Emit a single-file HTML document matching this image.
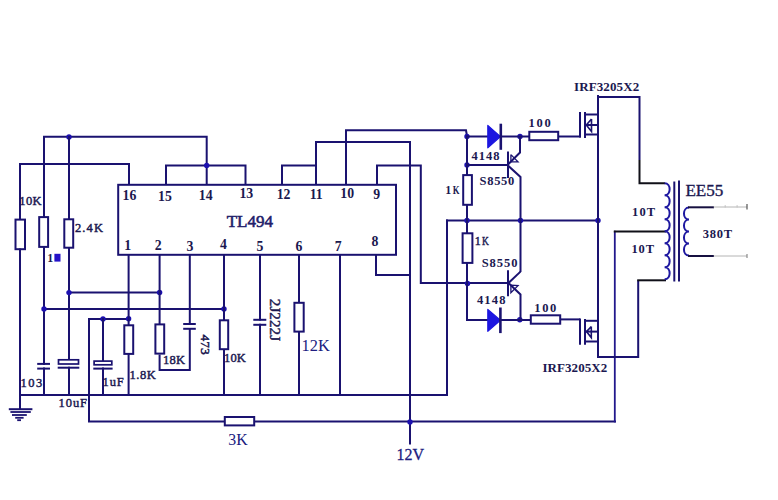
<!DOCTYPE html>
<html><head><meta charset="utf-8"><style>
html,body{margin:0;padding:0;background:#fff;width:778px;height:500px;overflow:hidden}
svg{display:block}
</style></head><body>
<svg width="778" height="500" viewBox="0 0 778 500"><rect x="118.20" y="184.80" width="277.80" height="70.00" fill="#fff" stroke="#1a1270" stroke-width="2"/>
<polyline points="44,247.5 44,136.8 206.7,136.8 206.7,185" fill="none" stroke="#1a1270" stroke-width="2" stroke-linejoin="miter"/>
<circle cx="69" cy="137" r="2.7" fill="#1c10b0"/>
<line x1="69" y1="137" x2="69" y2="218.5" stroke="#1a1270" stroke-width="2" stroke-linecap="square"/>
<polyline points="20,249.5 20,164 129,164 129,185" fill="none" stroke="#1a1270" stroke-width="2" stroke-linejoin="miter"/>
<polyline points="166,185 166,165.4 245.5,165.4 245.5,185" fill="none" stroke="#1a1270" stroke-width="2" stroke-linejoin="miter"/>
<circle cx="206.7" cy="165.4" r="2.7" fill="#1c10b0"/>
<polyline points="282,185 282,165.6 316,165.6" fill="none" stroke="#1a1270" stroke-width="2" stroke-linejoin="miter"/>
<polyline points="316,185 316,142.1 410,142.1 410,444.5" fill="none" stroke="#1a1270" stroke-width="2" stroke-linejoin="miter"/>
<polyline points="346,185 346,130.3 466,130.3 467,136" fill="none" stroke="#1a1270" stroke-width="2" stroke-linejoin="miter"/>
<polyline points="377,185 377,165.4 420.8,165.4 420.8,283 508,283" fill="none" stroke="#1a1270" stroke-width="2" stroke-linejoin="miter"/>
<rect x="15.50" y="219.60" width="9.50" height="29.60" fill="#fff" stroke="#1a1270" stroke-width="2"/>
<rect x="39.20" y="217.10" width="8.90" height="29.80" fill="#fff" stroke="#1a1270" stroke-width="2"/>
<rect x="64.30" y="219.30" width="8.90" height="28.40" fill="#fff" stroke="#1a1270" stroke-width="2"/>
<line x1="20" y1="249.5" x2="20" y2="409" stroke="#1a1270" stroke-width="2" stroke-linecap="square"/>
<line x1="44" y1="247.5" x2="44" y2="363.9" stroke="#1a1270" stroke-width="2" stroke-linecap="square"/>
<line x1="44" y1="368.5" x2="44" y2="395" stroke="#1a1270" stroke-width="2" stroke-linecap="square"/>
<line x1="37.2" y1="363.9" x2="50" y2="363.9" stroke="#1a1270" stroke-width="2" stroke-linecap="butt"/>
<line x1="37.2" y1="368.6" x2="50" y2="368.6" stroke="#1a1270" stroke-width="2" stroke-linecap="butt"/>
<line x1="69" y1="248.5" x2="69" y2="359.5" stroke="#1a1270" stroke-width="2" stroke-linecap="square"/>
<rect x="58.50" y="359.80" width="20.00" height="4.20" fill="#fff" stroke="#1a1270" stroke-width="1.7"/>
<line x1="57.7" y1="367.7" x2="79.3" y2="367.7" stroke="#1a1270" stroke-width="2" stroke-linecap="butt"/>
<line x1="69" y1="367.8" x2="69" y2="395" stroke="#1a1270" stroke-width="2" stroke-linecap="square"/>
<line x1="69" y1="292.6" x2="159.6" y2="292.6" stroke="#1a1270" stroke-width="2" stroke-linecap="square"/>
<circle cx="69" cy="292.6" r="2.7" fill="#1c10b0"/>
<circle cx="159.6" cy="292.5" r="2.7" fill="#1c10b0"/>
<line x1="44" y1="309" x2="224" y2="309" stroke="#1a1270" stroke-width="2" stroke-linecap="square"/>
<circle cx="44" cy="309" r="2.7" fill="#1c10b0"/>
<circle cx="224" cy="309" r="2.7" fill="#1c10b0"/>
<polyline points="89,421.5 89,319 128.6,319" fill="none" stroke="#1a1270" stroke-width="2" stroke-linejoin="miter"/>
<circle cx="103" cy="319" r="2.7" fill="#1c10b0"/>
<circle cx="128.6" cy="318.8" r="2.7" fill="#1c10b0"/>
<line x1="103" y1="319" x2="103" y2="360.5" stroke="#1a1270" stroke-width="2" stroke-linecap="square"/>
<rect x="94.10" y="361.10" width="17.70" height="3.70" fill="#fff" stroke="#1a1270" stroke-width="1.7"/>
<line x1="93.3" y1="368.6" x2="112.6" y2="368.6" stroke="#1a1270" stroke-width="2" stroke-linecap="butt"/>
<line x1="103" y1="368.5" x2="103" y2="395" stroke="#1a1270" stroke-width="2" stroke-linecap="square"/>
<line x1="128.6" y1="255" x2="128.6" y2="324.5" stroke="#1a1270" stroke-width="2" stroke-linecap="square"/>
<rect x="124.30" y="325.30" width="8.90" height="28.60" fill="#fff" stroke="#1a1270" stroke-width="2"/>
<line x1="128.6" y1="354.7" x2="128.6" y2="395" stroke="#1a1270" stroke-width="2" stroke-linecap="square"/>
<line x1="159.6" y1="255" x2="159.6" y2="323.6" stroke="#1a1270" stroke-width="2" stroke-linecap="square"/>
<rect x="155.40" y="324.40" width="8.80" height="29.20" fill="#fff" stroke="#1a1270" stroke-width="2"/>
<polyline points="159.6,354.4 159.6,370 189.8,370 189.8,328.8" fill="none" stroke="#1a1270" stroke-width="2" stroke-linejoin="miter"/>
<line x1="189.8" y1="255" x2="189.8" y2="324" stroke="#1a1270" stroke-width="2" stroke-linecap="square"/>
<line x1="183.2" y1="324" x2="195.8" y2="324" stroke="#1a1270" stroke-width="2" stroke-linecap="butt"/>
<line x1="183.2" y1="328.8" x2="195.8" y2="328.8" stroke="#1a1270" stroke-width="2" stroke-linecap="butt"/>
<line x1="224" y1="255" x2="224" y2="319.5" stroke="#1a1270" stroke-width="2" stroke-linecap="square"/>
<rect x="219.80" y="320.30" width="8.40" height="28.90" fill="#fff" stroke="#1a1270" stroke-width="2"/>
<line x1="224" y1="350" x2="224" y2="395" stroke="#1a1270" stroke-width="2" stroke-linecap="square"/>
<line x1="260" y1="255" x2="260" y2="319.6" stroke="#1a1270" stroke-width="2" stroke-linecap="square"/>
<line x1="253.3" y1="319.8" x2="266.3" y2="319.8" stroke="#1a1270" stroke-width="2" stroke-linecap="butt"/>
<line x1="253.3" y1="324.8" x2="266.3" y2="324.8" stroke="#1a1270" stroke-width="2" stroke-linecap="butt"/>
<line x1="260" y1="324.8" x2="260" y2="395" stroke="#1a1270" stroke-width="2" stroke-linecap="square"/>
<line x1="299" y1="255" x2="299" y2="302" stroke="#1a1270" stroke-width="2" stroke-linecap="square"/>
<rect x="294.40" y="302.80" width="9.30" height="28.80" fill="#fff" stroke="#1a1270" stroke-width="2"/>
<line x1="299" y1="332.4" x2="299" y2="395" stroke="#1a1270" stroke-width="2" stroke-linecap="square"/>
<line x1="340" y1="255" x2="340" y2="395" stroke="#1a1270" stroke-width="2" stroke-linecap="square"/>
<polyline points="376,255 376,275 410,275" fill="none" stroke="#1a1270" stroke-width="2" stroke-linejoin="miter"/>
<line x1="20" y1="395" x2="447" y2="395" stroke="#1a1270" stroke-width="2" stroke-linecap="square"/>
<line x1="89" y1="421.5" x2="224" y2="421.5" stroke="#1a1270" stroke-width="2" stroke-linecap="square"/>
<rect x="224.80" y="417.00" width="29.40" height="8.40" fill="#fff" stroke="#1a1270" stroke-width="2"/>
<line x1="255" y1="421.5" x2="615" y2="421.5" stroke="#1a1270" stroke-width="2" stroke-linecap="square"/>
<line x1="614.8" y1="421.5" x2="614.8" y2="231.6" stroke="#22188c" stroke-width="1.8" stroke-linecap="square"/>
<line x1="614.8" y1="231.6" x2="665" y2="231.6" stroke="#101018" stroke-width="2" stroke-linecap="square"/>
<circle cx="410" cy="422" r="2.7" fill="#1c10b0"/>
<line x1="8.8" y1="409.2" x2="32.4" y2="409.2" stroke="#1a1270" stroke-width="2" stroke-linecap="butt"/>
<line x1="10.4" y1="412" x2="30.8" y2="412" stroke="#1a1270" stroke-width="1.8" stroke-linecap="butt"/>
<line x1="12" y1="415" x2="26.8" y2="415" stroke="#1a1270" stroke-width="1.8" stroke-linecap="butt"/>
<line x1="15.2" y1="417.8" x2="23.6" y2="417.8" stroke="#1a1270" stroke-width="1.8" stroke-linecap="butt"/>
<line x1="17.2" y1="420.2" x2="21" y2="420.2" stroke="#1a1270" stroke-width="1.8" stroke-linecap="butt"/>
<line x1="447" y1="220.5" x2="447" y2="395" stroke="#1a1270" stroke-width="2" stroke-linecap="square"/>
<line x1="447" y1="220.5" x2="598" y2="220.5" stroke="#1a1270" stroke-width="2" stroke-linecap="square"/>
<circle cx="467" cy="220.5" r="2.7" fill="#1c10b0"/>
<circle cx="520.5" cy="220.5" r="2.7" fill="#1c10b0"/>
<circle cx="598" cy="220.5" r="2.7" fill="#1c10b0"/>
<circle cx="467" cy="136.5" r="2.7" fill="#1c10b0"/>
<circle cx="520" cy="136.5" r="2.7" fill="#1c10b0"/>
<circle cx="467" cy="165" r="2.7" fill="#1c10b0"/>
<circle cx="467.5" cy="283.5" r="2.7" fill="#1c10b0"/>
<circle cx="519.8" cy="319.8" r="2.7" fill="#1c10b0"/>
<line x1="467" y1="136.5" x2="487" y2="136.5" stroke="#1a1270" stroke-width="2" stroke-linecap="square"/>
<polygon points="487.8,125.5 487.8,147.8 500.5,136.6" fill="#1c16e0" stroke="#1c16e0" stroke-width="1.2" stroke-linejoin="round"/>
<line x1="500.8" y1="125" x2="500.8" y2="148.5" stroke="#1a1270" stroke-width="2.6" stroke-linecap="square"/>
<line x1="501" y1="136.5" x2="528.5" y2="136.5" stroke="#1a1270" stroke-width="2" stroke-linecap="square"/>
<rect x="529.30" y="131.80" width="28.90" height="8.40" fill="#fff" stroke="#1a1270" stroke-width="2"/>
<line x1="559" y1="136.5" x2="580" y2="136.5" stroke="#1a1270" stroke-width="2" stroke-linecap="square"/>
<line x1="467" y1="136.5" x2="467" y2="174.6" stroke="#1a1270" stroke-width="2" stroke-linecap="square"/>
<rect x="463.20" y="175.10" width="8.70" height="29.70" fill="#fff" stroke="#1a1270" stroke-width="2"/>
<line x1="467" y1="205" x2="467" y2="233" stroke="#1a1270" stroke-width="2" stroke-linecap="square"/>
<rect x="462.60" y="233.30" width="9.80" height="29.60" fill="#fff" stroke="#1a1270" stroke-width="2"/>
<line x1="467" y1="263" x2="467" y2="320" stroke="#1a1270" stroke-width="2" stroke-linecap="square"/>
<line x1="467" y1="320" x2="487" y2="320" stroke="#1a1270" stroke-width="2" stroke-linecap="square"/>
<polygon points="487.8,309.5 487.8,331.3 500.4,320.2" fill="#1c16e0" stroke="#1c16e0" stroke-width="1.2" stroke-linejoin="round"/>
<line x1="500.4" y1="308.8" x2="500.4" y2="331.8" stroke="#1a1270" stroke-width="2.6" stroke-linecap="square"/>
<line x1="500.5" y1="320" x2="530" y2="320" stroke="#1a1270" stroke-width="2" stroke-linecap="square"/>
<rect x="530.80" y="315.30" width="29.40" height="8.40" fill="#fff" stroke="#1a1270" stroke-width="2"/>
<polyline points="561,319.4 580,319.4" fill="none" stroke="#1a1270" stroke-width="2" stroke-linejoin="miter"/>
<line x1="467" y1="165" x2="508" y2="165" stroke="#1a1270" stroke-width="2" stroke-linecap="square"/>
<line x1="508" y1="152.5" x2="508" y2="177" stroke="#1a1270" stroke-width="2" stroke-linecap="square"/>
<polyline points="520,136.5 520,152.5 508.5,164" fill="none" stroke="#1a1270" stroke-width="2" stroke-linejoin="miter"/>
<polyline points="508.5,166 520.5,177 520.5,272" fill="none" stroke="#1a1270" stroke-width="2" stroke-linejoin="miter"/>
<polyline points="510.9,154.6 510.9,161.8 518,161.8 510.9,154.6" fill="none" stroke="#1a1270" stroke-width="1.3" stroke-linejoin="miter"/>
<line x1="508" y1="271.2" x2="508" y2="295.2" stroke="#1a1270" stroke-width="2" stroke-linecap="square"/>
<polyline points="508.5,283 520.5,271.6" fill="none" stroke="#1a1270" stroke-width="2" stroke-linejoin="miter"/>
<polyline points="508.5,283 520.5,294.4 520.5,320" fill="none" stroke="#1a1270" stroke-width="2" stroke-linejoin="miter"/>
<polyline points="510.9,285.2 510.9,292.6 518,285.6 510.9,285.2" fill="none" stroke="#1a1270" stroke-width="1.3" stroke-linejoin="miter"/>
<line x1="580" y1="113" x2="580" y2="136.5" stroke="#1a1270" stroke-width="2" stroke-linecap="square"/>
<line x1="585" y1="113" x2="585" y2="137" stroke="#1a1270" stroke-width="2" stroke-linecap="square"/>
<polyline points="585,114.5 598,114.5" fill="none" stroke="#1a1270" stroke-width="2" stroke-linejoin="miter"/>
<line x1="585" y1="125" x2="598" y2="125" stroke="#1a1270" stroke-width="2" stroke-linecap="square"/>
<line x1="585" y1="134.5" x2="598" y2="134.5" stroke="#1a1270" stroke-width="2" stroke-linecap="square"/>
<polyline points="598,95 598,357 638.2,357 638.2,280.3" fill="none" stroke="#1a1270" stroke-width="2" stroke-linejoin="miter"/>
<line x1="638.2" y1="280.3" x2="665" y2="280.3" stroke="#101018" stroke-width="2" stroke-linecap="square"/>
<polyline points="598,97 639.5,97 639.5,160" fill="none" stroke="#1a1270" stroke-width="2" stroke-linejoin="miter"/>
<polyline points="639.5,160 639.5,183.2 665,183.2" fill="none" stroke="#101018" stroke-width="2" stroke-linejoin="miter"/>
<polyline points="591.5,119 586.3,125 591.5,131.5 591.5,119" fill="none" stroke="#1a1270" stroke-width="1.6" stroke-linejoin="miter"/>
<line x1="580" y1="319.4" x2="580" y2="343.7" stroke="#1a1270" stroke-width="2" stroke-linecap="square"/>
<line x1="585" y1="320" x2="585" y2="343.7" stroke="#1a1270" stroke-width="2" stroke-linecap="square"/>
<line x1="585" y1="320.8" x2="598" y2="320.8" stroke="#1a1270" stroke-width="2" stroke-linecap="square"/>
<line x1="585" y1="331.6" x2="598" y2="331.6" stroke="#1a1270" stroke-width="2" stroke-linecap="square"/>
<line x1="585" y1="341.5" x2="598" y2="341.5" stroke="#1a1270" stroke-width="2" stroke-linecap="square"/>
<polyline points="591.3,326.5 586.5,331.6 591.3,337.6 591.3,326.5" fill="none" stroke="#1a1270" stroke-width="1.6" stroke-linejoin="miter"/>
<path d="M664.6,183.2 C671.32,183.2 671.32,195.2 664.6,195.2 C671.32,195.2 671.32,207.2 664.6,207.2 C671.32,207.2 671.32,219.2 664.6,219.2 C671.32,219.2 671.32,231.2 664.6,231.2 C671.32,231.2 671.32,243.2 664.6,243.2 C671.32,243.2 671.32,255.2 664.6,255.2 C671.32,255.2 671.32,267.2 664.6,267.2 C671.32,267.2 671.32,279.2 664.6,279.2" fill="none" stroke="#1e18a0" stroke-width="2"/>
<line x1="674.3" y1="182.5" x2="674.3" y2="280.5" stroke="#1a1270" stroke-width="2" stroke-linecap="square"/>
<line x1="679" y1="181.5" x2="679" y2="280.5" stroke="#1a1270" stroke-width="2" stroke-linecap="square"/>
<path d="M689,207.6 C682.28,207.6 682.28,219.6 689,219.6 C682.28,219.6 682.28,231.6 689,231.6 C682.28,231.6 682.28,243.6 689,243.6 C682.28,243.6 682.28,255.6 689,255.6" fill="none" stroke="#1e18a0" stroke-width="2"/>
<line x1="689" y1="207.3" x2="713" y2="207.3" stroke="#161040" stroke-width="2" stroke-linecap="square"/>
<line x1="689" y1="256" x2="713" y2="256" stroke="#161040" stroke-width="2" stroke-linecap="square"/>
<line x1="714" y1="207" x2="746.5" y2="207" stroke="#b4b4b4" stroke-width="1" stroke-linecap="square"/>
<line x1="714" y1="256" x2="746.5" y2="256" stroke="#b4b4b4" stroke-width="1" stroke-linecap="square"/>
<line x1="747" y1="204.5" x2="747" y2="209" stroke="#555" stroke-width="1.2" stroke-linecap="square"/>
<line x1="747" y1="254.5" x2="747" y2="257.5" stroke="#777" stroke-width="1" stroke-linecap="square"/>
<line x1="725.2" y1="205.5" x2="725.2" y2="207" stroke="#bbb" stroke-width="0.8" stroke-linecap="square"/>
<line x1="737.1" y1="205.5" x2="737.1" y2="207" stroke="#bbb" stroke-width="0.8" stroke-linecap="square"/>
<text x="129.5" y="199.6" font-family="Liberation Serif" font-size="13.8" font-weight="bold" text-anchor="middle" fill="#1b1850" >16</text>
<text x="165" y="200.8" font-family="Liberation Serif" font-size="13.8" font-weight="bold" text-anchor="middle" fill="#1b1850" >15</text>
<text x="205.7" y="200.4" font-family="Liberation Serif" font-size="13.8" font-weight="bold" text-anchor="middle" fill="#1b1850" >14</text>
<text x="246.3" y="197.8" font-family="Liberation Serif" font-size="13.8" font-weight="bold" text-anchor="middle" fill="#1b1850" >13</text>
<text x="283.6" y="199" font-family="Liberation Serif" font-size="13.8" font-weight="bold" text-anchor="middle" fill="#1b1850" >12</text>
<text x="316.2" y="199" font-family="Liberation Serif" font-size="13.8" font-weight="bold" text-anchor="middle" fill="#1b1850" >11</text>
<text x="347.2" y="197.8" font-family="Liberation Serif" font-size="13.8" font-weight="bold" text-anchor="middle" fill="#1b1850" >10</text>
<text x="376.8" y="198.5" font-family="Liberation Serif" font-size="13.8" font-weight="bold" text-anchor="middle" fill="#1b1850" >9</text>
<text x="127.7" y="250.4" font-family="Liberation Serif" font-size="13.8" font-weight="bold" text-anchor="middle" fill="#1b1850" >1</text>
<text x="158.3" y="250.4" font-family="Liberation Serif" font-size="13.8" font-weight="bold" text-anchor="middle" fill="#1b1850" >2</text>
<text x="189.9" y="251" font-family="Liberation Serif" font-size="13.8" font-weight="bold" text-anchor="middle" fill="#1b1850" >3</text>
<text x="223.4" y="249" font-family="Liberation Serif" font-size="13.8" font-weight="bold" text-anchor="middle" fill="#1b1850" >4</text>
<text x="259.9" y="250.8" font-family="Liberation Serif" font-size="13.8" font-weight="bold" text-anchor="middle" fill="#1b1850" >5</text>
<text x="298.9" y="250.8" font-family="Liberation Serif" font-size="13.8" font-weight="bold" text-anchor="middle" fill="#1b1850" >6</text>
<text x="338.2" y="250.5" font-family="Liberation Serif" font-size="13.8" font-weight="bold" text-anchor="middle" fill="#1b1850" >7</text>
<text x="375" y="246" font-family="Liberation Serif" font-size="13.8" font-weight="bold" text-anchor="middle" fill="#1b1850" >8</text>
<text x="249.8" y="226.9" font-family="Liberation Serif" font-size="17" font-weight="normal" text-anchor="middle" fill="#22206a" stroke="#22206a" stroke-width="0.55">TL494</text>
<text x="19.3" y="204.8" font-family="Liberation Serif" font-size="12.5" font-weight="normal" text-anchor="start" fill="#1b1850" textLength="22.3" lengthAdjust="spacing" stroke="#1b1850" stroke-width="0.45">10K</text>
<text x="47.3" y="261.6" font-family="Liberation Serif" font-size="12" font-weight="bold" text-anchor="start" fill="#1b1850" >1</text>
<rect x="54.4" y="253.8" width="6.1" height="7.8" fill="#2412c8"/>
<text x="75.0" y="231.8" font-family="Liberation Serif" font-size="12.5" font-weight="normal" text-anchor="start" fill="#1b1850" textLength="28.0" lengthAdjust="spacing" stroke="#1b1850" stroke-width="0.45">2.4K</text>
<text x="20.5" y="387" font-family="Liberation Serif" font-size="12.5" font-weight="normal" text-anchor="start" fill="#1b1850" textLength="21.7" lengthAdjust="spacing" stroke="#1b1850" stroke-width="0.45">103</text>
<text x="58.6" y="406.7" font-family="Liberation Serif" font-size="12.5" font-weight="normal" text-anchor="start" fill="#1b1850" textLength="28.4" lengthAdjust="spacing" stroke="#1b1850" stroke-width="0.45">10uF</text>
<text x="102.60000000000001" y="385.7" font-family="Liberation Serif" font-size="12.5" font-weight="normal" text-anchor="start" fill="#1b1850" textLength="21.1" lengthAdjust="spacing" stroke="#1b1850" stroke-width="0.45">1uF</text>
<text x="129.5" y="378.8" font-family="Liberation Serif" font-size="12.5" font-weight="normal" text-anchor="start" fill="#1b1850" textLength="26.2" lengthAdjust="spacing" stroke="#1b1850" stroke-width="0.45">1.8K</text>
<text x="163.1" y="363.9" font-family="Liberation Serif" font-size="12.5" font-weight="normal" text-anchor="start" fill="#1b1850" textLength="22.0" lengthAdjust="spacing" stroke="#1b1850" stroke-width="0.45">18K</text>
<text x="224.1" y="361.6" font-family="Liberation Serif" font-size="12.5" font-weight="normal" text-anchor="start" fill="#1b1850" textLength="21.7" lengthAdjust="spacing" stroke="#1b1850" stroke-width="0.45">10K</text>
<text x="471.59999999999997" y="159.9" font-family="Liberation Serif" font-size="12.5" font-weight="bold" text-anchor="start" fill="#1b1850" textLength="28.0" lengthAdjust="spacing">4148</text>
<text x="479.59999999999997" y="184.6" font-family="Liberation Serif" font-size="12.5" font-weight="bold" text-anchor="start" fill="#1b1850" textLength="34.6" lengthAdjust="spacing">S8550</text>
<text x="445.3" y="194.2" font-family="Liberation Serif" font-size="12" font-weight="bold" text-anchor="start" fill="#1b1850" >1</text>
<text x="452.8" y="194.2" font-family="Liberation Serif" font-size="12" font-weight="bold" text-anchor="start" fill="#1b1850" textLength="6.8" lengthAdjust="spacingAndGlyphs">K</text>
<text x="474.8" y="244.7" font-family="Liberation Serif" font-size="12" font-weight="normal" text-anchor="start" fill="#1b1850" stroke="#1b1850" stroke-width="0.45">1</text>
<text x="482" y="244.7" font-family="Liberation Serif" font-size="12" font-weight="normal" text-anchor="start" fill="#1b1850" textLength="6.8" lengthAdjust="spacingAndGlyphs" stroke="#1b1850" stroke-width="0.45">K</text>
<text x="481.7" y="266.8" font-family="Liberation Serif" font-size="12.5" font-weight="bold" text-anchor="start" fill="#1b1850" textLength="35.7" lengthAdjust="spacing">S8550</text>
<text x="476.9" y="303.9" font-family="Liberation Serif" font-size="12.5" font-weight="bold" text-anchor="start" fill="#1b1850" textLength="28.5" lengthAdjust="spacing">4148</text>
<text x="528.4000000000001" y="126.8" font-family="Liberation Serif" font-size="12.5" font-weight="bold" text-anchor="start" fill="#1b1850" textLength="22.4" lengthAdjust="spacing">100</text>
<text x="534.3000000000001" y="311.8" font-family="Liberation Serif" font-size="12.5" font-weight="bold" text-anchor="start" fill="#1b1850" textLength="22.0" lengthAdjust="spacing">100</text>
<text x="574.0" y="91" font-family="Liberation Serif" font-size="13" font-weight="bold" text-anchor="start" fill="#1b1850" textLength="65.2" lengthAdjust="spacing">IRF3205X2</text>
<text x="542.5" y="371.8" font-family="Liberation Serif" font-size="13" font-weight="bold" text-anchor="start" fill="#1b1850" textLength="64.7" lengthAdjust="spacing">IRF3205X2</text>
<text x="632.1" y="215.6" font-family="Liberation Serif" font-size="12.5" font-weight="bold" text-anchor="start" fill="#1b1850" textLength="23.1" lengthAdjust="spacing">10T</text>
<text x="631.5" y="253.4" font-family="Liberation Serif" font-size="12.5" font-weight="bold" text-anchor="start" fill="#1b1850" textLength="22.5" lengthAdjust="spacing">10T</text>
<text x="702.8000000000001" y="237.7" font-family="Liberation Serif" font-size="12.5" font-weight="bold" text-anchor="start" fill="#1b1850" textLength="29.3" lengthAdjust="spacing">380T</text>
<text x="301.6" y="350.7" font-family="Liberation Serif" font-size="16.5" font-weight="normal" text-anchor="start" fill="#201c80" textLength="28.2" lengthAdjust="spacingAndGlyphs">12K</text>
<text x="228.3" y="445" font-family="Liberation Serif" font-size="17" font-weight="normal" text-anchor="start" fill="#201c80" textLength="19.3" lengthAdjust="spacingAndGlyphs">3K</text>
<text x="396.6" y="459.5" font-family="Liberation Serif" font-size="17" font-weight="normal" text-anchor="start" fill="#201c80" textLength="27.6" lengthAdjust="spacingAndGlyphs" stroke="#201c80" stroke-width="0.3">12V</text>
<text x="685.4" y="195.7" font-family="Liberation Serif" font-size="17" font-weight="normal" text-anchor="start" fill="#1b1850" textLength="38" lengthAdjust="spacingAndGlyphs" stroke="#1b1850" stroke-width="0.35">EE55</text>
<text x="0" y="0" font-family="Liberation Serif" font-size="13.5" font-weight="normal" text-anchor="start" fill="#1b1850" transform="translate(200.5,334.5) rotate(90)" stroke="#1b1850" stroke-width="0.5">473</text>
<text x="0" y="0" font-family="Liberation Serif" font-size="14" font-weight="normal" text-anchor="start" fill="#1b1850" transform="translate(270.2,298.8) rotate(90)" textLength="42.4" lengthAdjust="spacingAndGlyphs" stroke="#1b1850" stroke-width="0.4">2J222J</text></svg>
</body></html>
